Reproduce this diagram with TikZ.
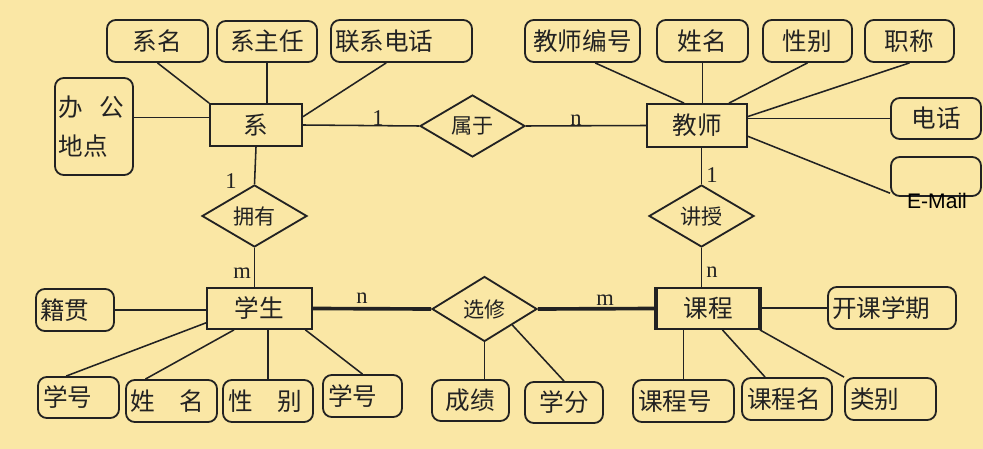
\documentclass[tikz,border=0pt]{standalone}
\usepackage{fontspec}
\setmainfont{Liberation Serif}
\newfontfamily\cjk{Noto Sans CJK SC}
\newfontfamily\mailfont{Liberation Sans}
\usepackage{tikz}
\usetikzlibrary{shapes.geometric,calc}
\definecolor{ERPaper}{HTML}{FAE7A5}
\definecolor{ERInk}{HTML}{222222}
\tikzset{
  sz/.style 2 args={minimum width=#1mm, minimum height=#2mm},
  entity/.style={draw=ERInk, line width=1.3pt, inner sep=0pt, text=ERInk,
    font=\cjk\fontsize{17.5}{20}\selectfont},
  attr/.style={draw=ERInk, line width=1.3pt, rounded corners=2.2mm, inner sep=0pt,
    text=ERInk, font=\cjk\fontsize{17.5}{20}\selectfont},
  attrl/.style={attr, align=left, text width=#1},
  rel/.style={draw=ERInk, diamond, line width=1.3pt, inner sep=0pt, text=ERInk,
    minimum width=26.25mm, minimum height=15.5mm, font=\cjk\fontsize{15}{18}\selectfont},
  card/.style={inner sep=0pt, text=ERInk, font=\rmfamily\fontsize{16}{18}\selectfont},
  mail/.style={inner sep=0pt, text=black, font=\mailfont\fontsize{15}{17}\selectfont},
  link/.style={draw=ERInk, line width=1.1pt},
  strong/.style={draw=ERInk, line width=2.6pt},
}

\begin{document}
\begin{tikzpicture}[x=0.25mm,y=-0.25mm]
  \useasboundingbox (0,0) rectangle (983,449);
  \fill[ERPaper] (0,0) rectangle (983,449);

  % entities
  \node[entity, sz={23}{10.5}] (xi) at (256,125) {系};
  \node[entity, sz={25}{10.75}] (js) at (697,125.5) {教师};
  \node[entity, sz={26.25}{10.25}] (xs) at (259.5,308.5) {学生};
  \node[entity, sz={25.5}{10.25}] (kc) at (708,308.5) {课程};
  \draw[strong] (kc.north west) -- (kc.south west);
  \draw[strong] (kc.north east) -- (kc.south east);

  % relationships
  \node[rel] (sy) at (472.5,126) {属于};
  \node[rel] (yy) at (254.5,216) {拥有};
  \node[rel] (jsh) at (701.5,216) {讲授};
  \node[rel, minimum height=16.25mm] (xx) at (484.5,309) {选修};

  % attributes of 系
  \node[attr, sz={25.25}{10.5}] (xm) at (157.5,41) {系名};
  \node[attr, sz={25}{10.25}] (xzr) at (267,41.5) {系主任};
  \node[attrl=33.25mm, sz={35.25}{10.5}] (lxdh) at (401.5,41) {联系电话};
  \node[attrl=17.5mm, sz={19.5}{24.25}] (bgdd) at (94,126.5) {\mbox{办\hspace{0.65em}公}\\[8pt]地点};

  % attributes of 教师
  \node[attr, sz={28.75}{10.5}] (jsbh) at (582.5,41) {教师编号};
  \node[attr, sz={22.75}{10.5}] (jsxm) at (702.5,41) {姓名};
  \node[attr, sz={22.25}{10.5}] (jsxb) at (807.5,41) {性别};
  \node[attr, sz={22.25}{10.5}] (jszc) at (909.5,41) {职称};
  \node[attr, sz={22.5}{10.25}] (jsdh) at (936,118.5) {电话};
  \node[attr, sz={22.5}{9.75}] (jsem) at (936,176.5) {};
  \node[mail] (jsemt) at (937,201) {E-Mail};

  % attributes of 学生
  \node[attrl=17.5mm, sz={19.5}{10.5}] (xsjg) at (75,310) {籍贯};
  \node[attrl=17.75mm, sz={20.25}{10.25}] (xsxh) at (78.5,397.5) {学号};
  \node[attrl=20.75mm, sz={22.75}{10.5}] (xsxm) at (171.5,401) {姓\hspace{1em}名};
  \node[attrl=20mm, sz={22.5}{10.5}] (xsxb) at (268,401) {性\hspace{1em}别};
  \node[attrl=17.25mm, sz={19.75}{10.5}] (xsxh2) at (362.5,396) {学号};

  % attributes of 选修
  \node[attr, sz={19.25}{10.25}] (xxcj) at (470.5,400.5) {成绩};
  \node[attr, sz={19.5}{10.25}] (xxxf) at (564,402.5) {学分};

  % attributes of 课程
  \node[attrl=30mm, sz={32}{10.5}] (kcxq) at (892,308) {开课学期};
  \node[attrl=22.75mm, sz={25.25}{10.5}] (kch) at (683.5,401) {课程号};
  \node[attrl=20mm, sz={22.5}{10.5}] (kcm) at (787,399) {课程名};
  \node[attrl=20.25mm, sz={22.75}{10.5}] (kclb) at (890.5,399) {类别};

  % relationship links
  \draw[link] (xi.east) -- (sy.west);
  \draw[link] (sy.east) -- (js.west);
  \draw[link] (xi.south) -- (yy.north);
  \draw[link] (yy.south) -- (yy.south |- xs.north);
  \draw[link] (jsh.north |- js.south) -- (jsh.north);
  \draw[link] (jsh.south) -- (jsh.south |- kc.north);
  \draw[strong] (xs.east) -- (xx.west);
  \draw[strong] (xx.east) -- (kc.west);

  % cardinalities
  \node[card] (c1) at (378,118) {1};
  \node[card] (c2) at (576,120) {n};
  \node[card] (c3) at (231,181) {1};
  \node[card] (c4) at (242,273) {m};
  \node[card] (c5) at (712,175) {1};
  \node[card] (c6) at (712,272) {n};
  \node[card] (c7) at (362,298) {n};
  \node[card] (c8) at (605,300) {m};

  % attribute links
  \draw[link] (xm.south) -- (xi.north west);
  \draw[link] (xzr.south) -- (xzr.south |- xi.north);
  \draw[link] (lxdh.-125) -- (xi.10);
  \draw[link] (bgdd.13) -- (bgdd.13 -| xi.west);
  \draw[link] (jsbh.-60) -- (js.120);
  \draw[link] (jsxm.south) -- (jsxm.south |- js.north);
  \draw[link] (jsxb.south) -- (js.35);
  \draw[link] (jszc.south) -- (js.10);
  \draw[link] (jsdh.west) -- (jsdh.west -| js.east);
  \draw[link] (jsem.200) -- (js.-12);
  \draw[link] (xsjg.east) -- (xsjg.east -| xs.west);
  \draw[link] (xsxh.120) -- (xs.195);
  \draw[link] (xsxm.140) -- (xs.-140);
  \draw[link] (xsxb.north) -- (xsxb.north |- xs.south);
  \draw[link] (xsxh2.north) -- (xs.-25);
  \draw[link] (xx.south) -- (xx.south |- xxcj.north);
  \draw[link] (xxxf.north) -- (xx.-30);
  \draw[link] (kcxq.west) -- (kcxq.west -| kc.east);
  \draw[link] (kch.north) -- (kch.north |- kc.south);
  \draw[link] (kcm.135) -- (kc.-56);
  \draw[link] (kclb.north west) -- (kc.south east);
\end{tikzpicture}
\end{document}
